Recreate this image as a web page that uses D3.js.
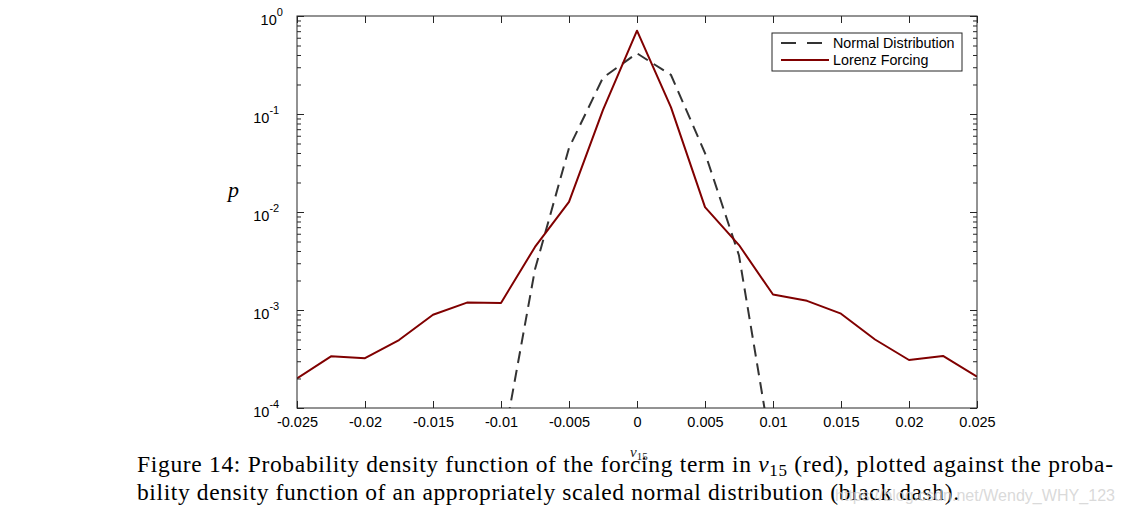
<!DOCTYPE html>
<html>
<head>
<meta charset="utf-8">
<script src="https://cdn.jsdelivr.net/npm/d3@7"></script>
<style>
  body { margin: 0; background: #fff; }
  svg { display: block; }
</style>
</head>
<body>
<svg id="chart" width="1127" height="514"></svg>
<script>
// data
var xLorenz = [-0.025, -0.0225, -0.02, -0.0175, -0.015, -0.0125, -0.01, -0.0075, -0.005, -0.0025, 0,
               0.0025, 0.005, 0.0075, 0.01, 0.0125, 0.015, 0.0175, 0.02, 0.0225, 0.025];
var pLorenz = [2.0e-4, 3.37e-4, 3.22e-4, 4.94e-4, 8.95e-4, 1.19e-3, 1.18e-3, 4.4e-3, 1.27e-2, 0.11, 0.708,
               0.117, 0.0112, 4.6e-3, 1.44e-3, 1.24e-3, 9.17e-4, 5.0e-4, 3.09e-4, 3.4e-4, 2.09e-4];
var xNormal = [-0.01, -0.0075, -0.005, -0.0025, 0, 0.0025, 0.005, 0.0075, 0.01];
var pNormal = [3.2e-5, 2.6e-3, 0.045, 0.235, 0.416, 0.25, 0.040, 3.6e-3, 3.0e-5];

var xTicks = [-0.025, -0.02, -0.015, -0.01, -0.005, 0, 0.005, 0.01, 0.015, 0.02, 0.025];
var yTicks = [1e-4, 1e-3, 1e-2, 1e-1, 1];
var yExponents = ['-4', '-3', '-2', '-1', '0'];

var seriesNames = ['Normal Distribution', 'Lorenz Forcing'];

var margin = { top: 16, left: 297 },
    width = 680,
    height = 392;

var axisColor = '#262626';
var tickFont = 14.5;

var svg = d3.select('#chart');

var x = d3.scaleLinear().domain([-0.025, 0.025]).range([0, width]);
var y = d3.scaleLog().domain([1e-4, 1]).range([height, 0]);

var g = svg.append('g')
    .attr('transform', 'translate(' + margin.left + ',' + margin.top + ')');

g.append('clipPath').attr('id', 'clip')
  .append('rect').attr('width', width).attr('height', height);

// lines
var line = d3.line()
    .x(function(d) { return x(d[0]); })
    .y(function(d) { return y(d[1]); });

g.append('path')
    .datum(d3.zip(xNormal, pNormal))
    .attr('clip-path', 'url(#clip)')
    .attr('fill', 'none')
    .attr('stroke', '#333333')
    .attr('stroke-width', 2)
    .attr('stroke-dasharray', '12,7')
    .attr('d', line);

g.append('path')
    .datum(d3.zip(xLorenz, pLorenz))
    .attr('clip-path', 'url(#clip)')
    .attr('fill', 'none')
    .attr('stroke', '#800000')
    .attr('stroke-width', 2)
    .attr('stroke-linejoin', 'round')
    .attr('d', line);

// axes
function styleAxis(sel) {
  sel.select('.domain').remove();
  sel.selectAll('line').attr('stroke', axisColor);
  sel.selectAll('text')
     .attr('fill', '#000')
     .attr('font-family', 'Liberation Sans, Arial, sans-serif')
     .attr('font-size', tickFont);
}

g.append('g')
    .attr('transform', 'translate(0,' + height + ')')
    .call(d3.axisBottom(x).tickValues(xTicks).tickSizeInner(-7).tickSizeOuter(0).tickPadding(9)
          .tickFormat(function(d) { return String(d); }))
    .call(styleAxis);

g.append('g')
    .call(d3.axisBottom(x).tickValues(xTicks).tickSizeInner(7).tickSizeOuter(0).tickFormat(''))
    .call(styleAxis);

// y major ticks with 10^n labels
var yLeft = g.append('g')
    .call(d3.axisLeft(y).tickValues(yTicks).tickSizeInner(-7).tickSizeOuter(0).tickPadding(8)
          .tickFormat(function() { return '10'; }))
    .call(styleAxis);

yLeft.selectAll('.tick text')
    .attr('dy', '0.6em')
    .each(function(d) {
      d3.select(this).append('tspan')
        .attr('font-size', 11)
        .attr('dy', '-0.85em')
        .text(yExponents[yTicks.indexOf(d)]);
    });
yLeft.selectAll('.tick text')
    .attr('x', function() { return -8 - (this.getComputedTextLength() - this.getSubStringLength(0, 2)); });

var minor = y.ticks().filter(function(d) { return yTicks.indexOf(d) < 0; });

g.append('g')
    .call(d3.axisLeft(y).tickValues(minor).tickSizeInner(-4).tickSizeOuter(0).tickFormat(''))
    .call(styleAxis);

g.append('g')
    .attr('transform', 'translate(' + width + ',0)')
    .call(d3.axisLeft(y).tickValues(yTicks).tickSizeInner(7).tickSizeOuter(0).tickFormat(''))
    .call(styleAxis);

g.append('g')
    .attr('transform', 'translate(' + width + ',0)')
    .call(d3.axisLeft(y).tickValues(minor).tickSizeInner(4).tickSizeOuter(0).tickFormat(''))
    .call(styleAxis);

// frame
g.append('rect')
    .attr('width', width).attr('height', height)
    .attr('fill', 'none').attr('stroke', axisColor).attr('stroke-width', 1);

// axis labels
g.append('text')
    .attr('x', -69).attr('y', 181)
    .attr('font-family', 'Liberation Serif, serif')
    .attr('font-style', 'italic')
    .attr('font-size', 22)
    .text('p');

var xl = g.append('text')
    .attr('x', x(0) - 7).attr('y', 441)
    .attr('font-family', 'Liberation Serif, serif')
    .attr('font-size', 15)
    .attr('fill', '#222');
xl.append('tspan').attr('font-style', 'italic').text('v');
xl.append('tspan').attr('font-size', 11).attr('dy', 3).text('15');

// legend
var legend = svg.append('g').attr('transform', 'translate(772,33)');
legend.append('rect')
    .attr('width', 190).attr('height', 38)
    .attr('fill', '#fff').attr('stroke', axisColor).attr('stroke-width', 1);

var legendStyles = [
  { color: '#333333', dash: '15,11' },
  { color: '#800000', dash: null }
];

seriesNames.forEach(function(name, i) {
  var row = legend.append('g').attr('transform', 'translate(0,' + (10 + i * 17) + ')');
  row.append('line')
      .attr('x1', 9).attr('x2', 57)
      .attr('stroke', legendStyles[i].color)
      .attr('stroke-width', 2)
      .attr('stroke-dasharray', legendStyles[i].dash);
  row.append('text')
      .attr('x', 61).attr('y', 5)
      .attr('font-family', 'Liberation Sans, Arial, sans-serif')
      .attr('font-size', 14.3)
      .text(name);
});

// caption
var caption = svg.append('g')
    .attr('font-family', 'Liberation Serif, serif')
    .attr('font-size', 23.5)
    .attr('fill', '#000');

var c1 = caption.append('text')
    .attr('x', 137).attr('y', 472)
    .attr('textLength', 976).attr('lengthAdjust', 'spacing');
c1.append('tspan').text('Figure 14: Probability density function of the forcing term in ');
c1.append('tspan').attr('font-style', 'italic').text('v');
c1.append('tspan').attr('font-size', 17).attr('dy', 4).text('15');
c1.append('tspan').attr('dy', -4).text(' (red), plotted against the proba-');

caption.append('text')
    .attr('x', 137).attr('y', 500)
    .attr('textLength', 822).attr('lengthAdjust', 'spacing')
    .text('bility density function of an appropriately scaled normal distribution (black dash).');

// watermark
svg.append('text')
    .attr('x', 835).attr('y', 501)
    .attr('textLength', 280).attr('lengthAdjust', 'spacingAndGlyphs')
    .attr('font-family', 'Liberation Sans, Arial, sans-serif')
    .attr('font-size', 16)
    .attr('fill', '#d0d0d0')
    .attr('fill-opacity', 0.8)
    .text('https://blog.csdn.net/Wendy_WHY_123');
</script>
</body>
</html>
